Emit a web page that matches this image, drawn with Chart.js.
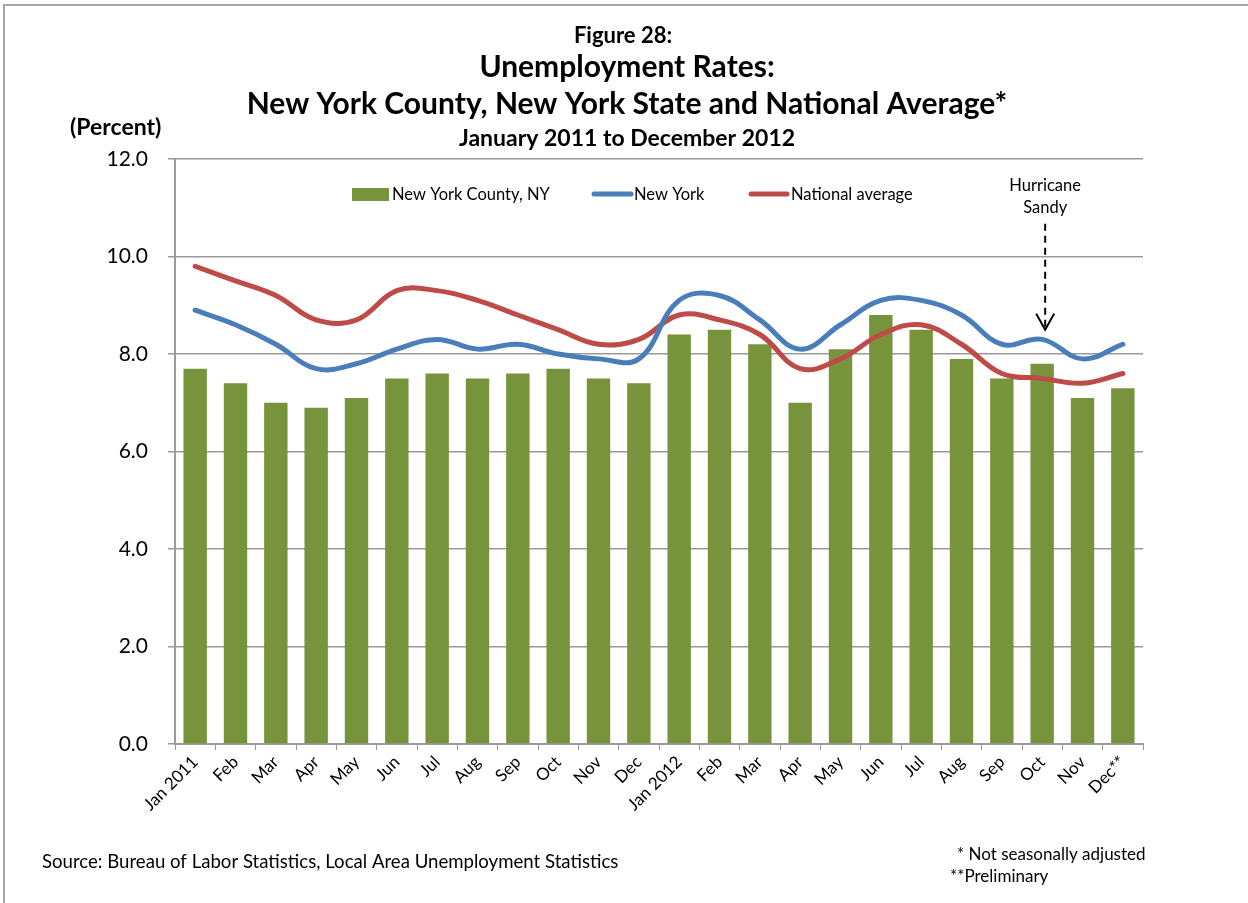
<!DOCTYPE html>
<html lang="en">
<head>
    <meta charset="UTF-8">
    <title>Figure 28: Unemployment Rates</title>
    <style>
        body {
            margin: 0;
            padding: 0;
            background: #ffffff;
            overflow: hidden;
        }
        .frame {
            position: absolute;
            left: 3px;
            top: 4px;
            width: 1300px;
            height: 1000px;
            border-top: 2px solid #a6a6a6;
            border-left: 2px solid #a6a6a6;
        }
        #chart {
            position: absolute;
            left: 0;
            top: 0;
        }
    </style>
</head>
<body>
    <div class="frame"></div>
    <canvas id="chart" width="1248" height="903"></canvas>

    <script src="https://cdn.jsdelivr.net/npm/chart.js"></script>
    <script>
        // Data (percent)
        const months = ['Jan 2011', 'Feb', 'Mar', 'Apr', 'May', 'Jun', 'Jul', 'Aug', 'Sep', 'Oct', 'Nov', 'Dec',
                        'Jan 2012', 'Feb', 'Mar', 'Apr', 'May', 'Jun', 'Jul', 'Aug', 'Sep', 'Oct', 'Nov', 'Dec**'];
        const countyRates = [7.7, 7.4, 7.0, 6.9, 7.1, 7.5, 7.6, 7.5, 7.6, 7.7, 7.5, 7.4,
                             8.4, 8.5, 8.2, 7.0, 8.1, 8.8, 8.5, 7.9, 7.5, 7.8, 7.1, 7.3];
        const stateRates = [8.9, 8.6, 8.2, 7.7, 7.8, 8.1, 8.3, 8.1, 8.2, 8.0, 7.9, 7.9,
                            9.1, 9.2, 8.7, 8.1, 8.6, 9.1, 9.1, 8.8, 8.2, 8.3, 7.9, 8.2];
        const nationalRates = [9.8, 9.5, 9.2, 8.7, 8.7, 9.3, 9.3, 9.1, 8.8, 8.5, 8.2, 8.3,
                               8.8, 8.7, 8.4, 7.7, 7.9, 8.4, 8.6, 8.2, 7.6, 7.5, 7.4, 7.6];
        const yTicks = [0, 2, 4, 6, 8, 10, 12];
        const sandyIndex = 21; // Oct 2012

        const GREEN = '#77933c';
        const BLUE = '#4a7ebb';
        const RED = '#be4b48';
        const GRID = '#9a9a9a';
        const FONT = 'Lato, "Open Sans", sans-serif';

        // Titles, legend, annotation and footnotes
        const decorations = {
            id: 'decorations',
            afterDraw(chart) {
                const ctx = chart.ctx;
                const x = chart.scales.x;
                const y = chart.scales.y;
                ctx.save();
                ctx.fillStyle = '#000';
                ctx.textBaseline = 'middle';

                // titles
                ctx.textAlign = 'center';
                ctx.font = 'bold 22px ' + FONT;
                ctx.fillText('Figure 28:', 623, 36);
                ctx.font = 'bold 30px ' + FONT;
                ctx.fillText('Unemployment Rates:', 627, 67);
                ctx.fillText('New York County, New York State and National Average*', 627, 104);
                ctx.font = 'bold 23px ' + FONT;
                ctx.fillText('January 2011 to December 2012', 627, 139);
                ctx.textAlign = 'left';
                ctx.fillText('(Percent)', 70, 128);

                // legend
                ctx.font = '16.5px ' + FONT;
                ctx.fillStyle = GREEN;
                ctx.fillRect(352, 188, 37, 13);
                ctx.fillStyle = '#000';
                ctx.fillText('New York County, NY', 392, 195);
                ctx.lineCap = 'round';
                ctx.lineWidth = 5;
                ctx.strokeStyle = BLUE;
                ctx.beginPath(); ctx.moveTo(594, 194); ctx.lineTo(631, 194); ctx.stroke();
                ctx.fillText('New York', 634, 195);
                ctx.strokeStyle = RED;
                ctx.beginPath(); ctx.moveTo(751, 194); ctx.lineTo(787, 194); ctx.stroke();
                ctx.fillText('National average', 791, 195);

                // Hurricane Sandy marker
                const ax = x.getPixelForValue(sandyIndex) + 3;
                ctx.textAlign = 'center';
                ctx.fillText('Hurricane', ax, 186);
                ctx.fillText('Sandy', ax, 208);
                ctx.strokeStyle = '#000';
                ctx.lineWidth = 2;
                ctx.lineCap = 'butt';
                ctx.setLineDash([7, 5]);
                ctx.beginPath();
                ctx.moveTo(ax, y.getPixelForValue(10.67));
                ctx.lineTo(ax, y.getPixelForValue(8.55));
                ctx.stroke();
                ctx.setLineDash([]);
                const tip = y.getPixelForValue(8.5);
                ctx.beginPath();
                ctx.moveTo(ax - 9, tip - 16);
                ctx.lineTo(ax, tip);
                ctx.lineTo(ax + 9, tip - 16);
                ctx.stroke();

                // footnotes
                ctx.textAlign = 'left';
                ctx.font = '18.6px ' + FONT;
                ctx.fillText('Source: Bureau of Labor Statistics, Local Area Unemployment Statistics', 42, 862);
                ctx.font = '17px ' + FONT;
                ctx.fillText('* Not seasonally adjusted', 957, 855);
                ctx.fillText('**Preliminary', 950, 877);
                ctx.restore();
            }
        };

        const chart = new Chart(document.getElementById('chart'), {
            type: 'bar',
            data: {
                labels: months,
                datasets: [{
                    type: 'line',
                    label: 'National average',
                    data: nationalRates,
                    borderColor: RED,
                    borderWidth: 5,
                    pointRadius: 0,
                    tension: 0.4,
                    borderCapStyle: 'round',
                    order: 2
                }, {
                    type: 'line',
                    label: 'New York',
                    data: stateRates,
                    borderColor: BLUE,
                    borderWidth: 5,
                    pointRadius: 0,
                    tension: 0.4,
                    borderCapStyle: 'round',
                    order: 1
                }, {
                    label: 'New York County, NY',
                    data: countyRates,
                    backgroundColor: GREEN,
                    barPercentage: 0.58,
                    categoryPercentage: 1.0,
                    order: 3
                }]
            },
            options: {
                responsive: false,
                animation: false,
                layout: { padding: { top: 159, right: 105, left: 0, bottom: 0 } },
                plugins: {
                    legend: { display: false },
                    tooltip: { enabled: false }
                },
                scales: {
                    x: {
                        offset: true,
                        afterFit(scale) { scale.height = 159; },
                        grid: {
                            offset: true,
                            drawOnChartArea: false,
                            drawTicks: true,
                            tickLength: 6,
                            color: GRID,
                            lineWidth: 1
                        },
                        border: { color: GRID, width: 2 },
                        ticks: {
                            minRotation: 45,
                            maxRotation: 45,
                            autoSkip: false,
                            padding: 2,
                            color: '#000',
                            font: { family: FONT, size: 17 }
                        }
                    },
                    y: {
                        min: yTicks[0],
                        max: yTicks[yTicks.length - 1],
                        afterFit(scale) { scale.width = 175; },
                        afterBuildTicks(scale) { scale.ticks = yTicks.map(v => ({ value: v })); },
                        grid: {
                            color: GRID,
                            lineWidth: 1.5,
                            tickLength: 7
                        },
                        border: { color: GRID, width: 2 },
                        ticks: {
                            padding: 20,
                            color: '#000',
                            font: { family: FONT, size: 21 },
                            callback: v => v.toFixed(1)
                        }
                    }
                }
            },
            plugins: [decorations]
        });
    </script>
</body>
</html>
